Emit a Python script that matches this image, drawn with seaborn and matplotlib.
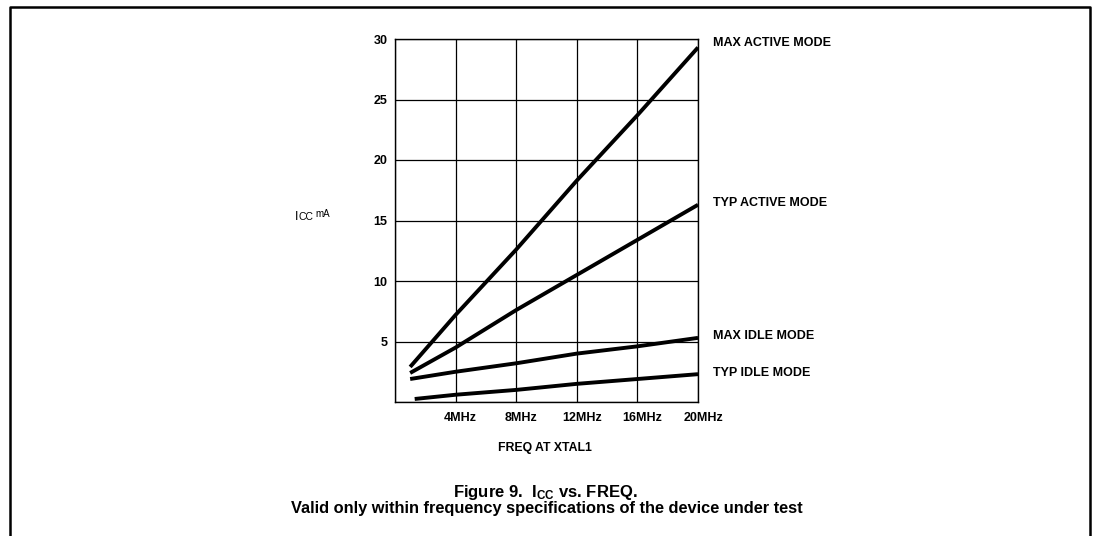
import numpy as np
import pandas as pd
import matplotlib
matplotlib.use("Agg")
import matplotlib.pyplot as plt
from matplotlib.lines import Line2D
from matplotlib.transforms import ScaledTranslation
import seaborn as sns

# Supply current vs. crystal frequency for the four operating modes
freq_mhz = [1.0, 4, 8, 12, 16, 20]
max_active = [2.9, 7.2, 12.6, 18.3, 23.7, 29.3]
typ_active = [2.4, 4.5, 7.6, 10.5, 13.4, 16.3]
max_idle = [1.9, 2.5, 3.2, 4.0, 4.6, 5.3]
typ_idle_freq = [1.3, 4, 8, 12, 16, 20]
typ_idle = [0.25, 0.6, 1.0, 1.5, 1.9, 2.3]

mode_names = ["MAX ACTIVE MODE", "TYP ACTIVE MODE", "MAX IDLE MODE", "TYP IDLE MODE"]
x_ticks = [4, 8, 12, 16, 20]
x_tick_labels = ["4MHz", "8MHz", "12MHz", "16MHz", "20MHz"]
y_ticks = [5, 10, 15, 20, 25, 30]

series = [
    (mode_names[0], freq_mhz, max_active),
    (mode_names[1], freq_mhz, typ_active),
    (mode_names[2], freq_mhz, max_idle),
    (mode_names[3], typ_idle_freq, typ_idle),
]
df = pd.concat(
    [pd.DataFrame({"freq": f, "icc": v, "mode": name}) for name, f, v in series],
    ignore_index=True,
)

sns.set_theme(style="white")
plt.rcParams["font.family"] = ["Liberation Sans", "DejaVu Sans"]
plt.rcParams["mathtext.fontset"] = "custom"
plt.rcParams["mathtext.rm"] = "Liberation Sans"
plt.rcParams["mathtext.bf"] = "Liberation Sans:bold"
plt.rcParams["mathtext.default"] = "regular"

W, H = 1094, 536
fig = plt.figure(figsize=(W / 100, H / 100), dpi=100)
ax = fig.add_axes([395 / W, 134 / H, 303 / W, 363 / H])

sns.lineplot(
    data=df, x="freq", y="icc", hue="mode", hue_order=mode_names,
    palette=["black"] * 4, linewidth=2.8, legend=False, ax=ax,
    solid_capstyle="butt",
)

ax.set_xlim(0, 20)
ax.set_ylim(0, 30)
ax.set_xticks([0] + x_ticks)
ax.set_xticklabels([""] + x_tick_labels)
ax.set_yticks([0] + y_ticks)
ax.set_yticklabels([""] + [str(v) for v in y_ticks])
ax.grid(True, color="black", linewidth=0.9)
ax.tick_params(axis="both", length=0, labelsize=9, colors="black")
ax.tick_params(axis="x", pad=7)
ax.tick_params(axis="y", pad=5.5)
shift = ScaledTranslation(5 / 100, 0, fig.dpi_scale_trans)
for lab in ax.get_xticklabels():
    lab.set_fontweight("bold")
    lab.set_transform(lab.get_transform() + shift)
for lab in ax.get_yticklabels():
    lab.set_fontweight("bold")
for sp in ax.spines.values():
    sp.set_color("black")
    sp.set_linewidth(1.0)
ax.set_xlabel("")
ax.set_ylabel("")

# Mode labels beside the right-hand ends of the curves
label_offsets = {mode_names[0]: 0.4, mode_names[1]: 0.15, mode_names[2]: 0.15, mode_names[3]: 0.1}
for name, f, v in series:
    ax.annotate(name, xy=(f[-1], v[-1] + label_offsets[name]), xytext=(10.8, 0),
                textcoords="offset points", va="center", ha="left",
                fontsize=9, fontweight="bold", color="black", annotation_clip=False)

# Y-axis title: I with CC subscript, followed by raised "mA"
fig.text(295 / W, 1 - 220 / H, "I", fontsize=9, va="baseline", ha="left", color="black")
fig.text(298.5 / W, 1 - 220.5 / H, "CC", fontsize=7.5, va="baseline", ha="left", color="black")
fig.text(315 / W, 1 - 217 / H, "mA", fontsize=7, va="baseline", ha="left", color="black")

fig.text(545 / W, 1 - 448 / H, "FREQ AT XTAL1", fontsize=8.8, fontweight="bold",
         ha="center", va="center", color="black")
fig.text(545 / W, 1 - 492.5 / H, r"Figure 9.  $\mathbf{I_{CC}}$ vs. FREQ.", fontsize=12,
         fontweight="bold", ha="center", va="center", color="black")
fig.text(547 / W, 1 - 509 / H,
         "Valid only within frequency specifications of the device under test",
         fontsize=11.8, fontweight="bold", ha="center", va="center", color="black")

# Page frame: left, top and right rules
frame_x = [10 / W, 10 / W, 1090 / W, 1090 / W]
frame_y = [0, 1 - 7 / H, 1 - 7 / H, 0]
fig.add_artist(Line2D(frame_x, frame_y, transform=fig.transFigure, color="black",
                      linewidth=1.8))

fig.savefig("out.png", dpi=100)
